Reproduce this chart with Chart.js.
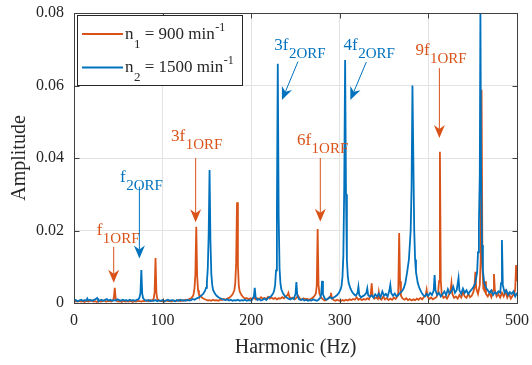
<!DOCTYPE html>
<html><head><meta charset="utf-8">
<script src="https://cdn.jsdelivr.net/npm/chart.js@4.4.0/dist/chart.umd.min.js"></script>
<style>html,body{margin:0;padding:0;background:#fff;}canvas{display:block;}</style>
</head><body>
<canvas id="c" width="532" height="365" style="width:532px;height:365px"></canvas>
<script>
// ---------- data ----------
const xTicks = [0, 100, 200, 300, 400, 500];
const yTicks = [0, 0.02, 0.04, 0.06, 0.08];
const xTitle = 'Harmonic (Hz)';
const yTitle = 'Amplitude';
const legendOrange = [{t:'n'},{t:'1',s:'sub'},{t:' = 900 min'},{t:'-1',s:'sup'}];
const legendBlue = [{t:'n'},{t:'2',s:'sub'},{t:' = 1500 min'},{t:'-1',s:'sup'}];

// n1 = 900 min^-1  [Hz, amplitude]
const orangePoints = [[0,0.0003],[2,0.0005],[4,0.0004],[6,0.0006],[8,0.0004],[10,0.0005],[12,0.0003],[14,0.0006],[16,0.0004],[18,0.0005],[20,0.0007],[22,0.0004],[24,0.0005],[26,0.0003],[28,0.0006],[30,0.0004],[32,0.0005],[34,0.0007],[36,0.0004],[38,0.0005],[40,0.0006],[42,0.0004],[44,0.0007],[45,0.0015],[46,0.0042],[47,0.0013],[48,0.0006],[50,0.0004],[52,0.0005],[54,0.0003],[56,0.0006],[58,0.0004],[60,0.0005],[62,0.0004],[64,0.0006],[66,0.0003],[68,0.0005],[70,0.0004],[72,0.0006],[74,0.0005],[76,0.0004],[78,0.0006],[80,0.0005],[82,0.0007],[84,0.0005],[86,0.0008],[88,0.0006],[90,0.0012],[91,0.003],[92,0.0124],[93,0.0028],[94,0.0011],[96,0.0007],[98,0.0005],[100,0.0006],[102,0.0004],[104,0.0007],[106,0.0005],[108,0.0006],[110,0.0004],[112,0.0007],[114,0.0005],[116,0.0006],[118,0.0008],[120,0.0005],[122,0.0007],[124,0.0006],[126,0.0009],[128,0.0007],[130,0.0011],[132,0.0013],[134,0.0018],[135,0.0025],[136,0.004],[137,0.008],[138,0.021],[139,0.0075],[140,0.0035],[141,0.0025],[143,0.0018],[145,0.0014],[147,0.0011],[149,0.0009],[151,0.0007],[153,0.0008],[155,0.0006],[157,0.0009],[159,0.0007],[161,0.0008],[163,0.0006],[165,0.0009],[167,0.0008],[169,0.0011],[171,0.0009],[173,0.0012],[175,0.0014],[177,0.0018],[179,0.0024],[181,0.0035],[182,0.0055],[183,0.011],[184,0.0278],[185,0.0105],[186,0.0048],[187,0.0032],[189,0.0022],[191,0.0016],[193,0.0012],[195,0.0014],[197,0.001],[199,0.0013],[201,0.0011],[203,0.0015],[205,0.001],[207,0.0013],[209,0.0011],[211,0.0016],[213,0.0012],[215,0.0014],[217,0.0011],[219,0.0017],[221,0.0012],[223,0.0015],[225,0.0011],[227,0.0014],[229,0.001],[231,0.0013],[233,0.0012],[235,0.0016],[237,0.0013],[239,0.0018],[241,0.0022],[242,0.0028],[243,0.0018],[245,0.0012],[247,0.0015],[249,0.001],[251,0.0014],[253,0.002],[255,0.0012],[257,0.0009],[259,0.0013],[261,0.001],[263,0.0012],[265,0.0009],[267,0.0011],[269,0.0014],[271,0.0018],[273,0.0026],[274,0.0048],[275,0.0204],[276,0.005],[277,0.0026],[279,0.0015],[281,0.001],[283,0.0007],[285,0.0009],[287,0.0012],[289,0.0018],[290,0.0028],[291,0.0015],[293,0.0008],[295,0.0006],[297,0.0009],[299,0.0007],[301,0.0005],[303,0.0008],[305,0.0006],[307,0.0009],[309,0.0007],[311,0.001],[313,0.0008],[315,0.0011],[317,0.0009],[319,0.0016],[321,0.0009],[323,0.0012],[325,0.0008],[327,0.0011],[329,0.0009],[331,0.0013],[333,0.001],[335,0.0025],[336,0.0054],[337,0.0022],[339,0.0012],[341,0.0015],[343,0.0011],[344,0.003],[345,0.0013],[347,0.0009],[349,0.0018],[351,0.001],[353,0.0014],[355,0.0008],[357,0.0012],[359,0.0009],[361,0.0015],[363,0.0011],[365,0.0018],[366,0.003],[367,0.0193],[368,0.006],[369,0.002],[371,0.0012],[373,0.0009],[375,0.0013],[377,0.0008],[379,0.0011],[381,0.0007],[383,0.001],[385,0.0008],[387,0.0012],[389,0.0009],[391,0.0014],[393,0.001],[395,0.0017],[397,0.0022],[398,0.0036],[399,0.0018],[401,0.0011],[403,0.0015],[405,0.001],[407,0.0013],[409,0.0016],[411,0.0028],[412,0.006],[413,0.0417],[414,0.0062],[415,0.0025],[417,0.0014],[419,0.0018],[421,0.0012],[423,0.0022],[425,0.0035],[426,0.0055],[427,0.0025],[429,0.0014],[431,0.0018],[433,0.0012],[435,0.0022],[437,0.0015],[439,0.003],[441,0.0018],[443,0.0014],[445,0.0025],[447,0.0016],[449,0.002],[451,0.0032],[452,0.0045],[453,0.0086],[454,0.004],[456,0.0025],[458,0.005],[459,0.012],[460,0.0588],[461,0.01],[462,0.004],[463,0.0035],[464,0.006],[465,0.0025],[467,0.0018],[469,0.0028],[471,0.0016],[473,0.0035],[474,0.008],[475,0.0035],[477,0.0018],[479,0.0024],[481,0.0015],[483,0.0028],[485,0.0018],[487,0.0032],[489,0.0015],[491,0.0026],[493,0.0012],[495,0.002],[497,0.0025],[498,0.004],[499,0.0105],[500,0.006]];

// n2 = 1500 min^-1  [Hz, amplitude]
const bluePoints = [[0,0.0006],[2,0.0008],[4,0.0005],[6,0.0007],[8,0.0009],[10,0.0006],[12,0.0008],[14,0.0007],[15,0.0012],[16,0.0007],[18,0.0009],[20,0.0006],[22,0.0008],[24,0.001],[26,0.0014],[27,0.0009],[29,0.0007],[31,0.0009],[33,0.0006],[35,0.0008],[37,0.0011],[39,0.0007],[41,0.0009],[43,0.0006],[45,0.0008],[47,0.0007],[49,0.001],[51,0.0008],[53,0.0006],[55,0.0009],[57,0.0007],[59,0.0008],[61,0.0006],[63,0.0009],[65,0.0007],[67,0.0008],[69,0.0006],[71,0.0009],[73,0.0011],[74,0.0016],[75,0.0028],[76,0.0091],[77,0.0026],[78,0.0013],[80,0.0008],[82,0.0006],[84,0.0008],[86,0.0005],[88,0.0007],[90,0.0006],[92,0.0008],[94,0.0005],[96,0.0007],[98,0.0006],[100,0.0008],[102,0.0005],[104,0.0007],[106,0.0009],[108,0.0006],[110,0.0008],[112,0.0007],[114,0.0005],[116,0.0008],[118,0.0006],[120,0.0009],[122,0.0007],[124,0.0008],[126,0.0006],[128,0.0009],[130,0.0007],[132,0.0008],[134,0.0011],[136,0.0009],[138,0.0012],[140,0.0014],[142,0.0017],[144,0.0021],[146,0.0026],[148,0.0034],[149,0.0042],[150,0.0058],[151,0.0095],[152,0.019],[153,0.0367],[154,0.017],[155,0.008],[156,0.005],[157,0.0036],[159,0.0026],[161,0.002],[163,0.0016],[165,0.0013],[167,0.0011],[169,0.0009],[171,0.0008],[173,0.001],[175,0.0007],[177,0.0009],[179,0.0006],[181,0.0008],[183,0.0007],[185,0.0009],[187,0.0006],[189,0.0008],[191,0.0007],[193,0.0009],[195,0.0006],[197,0.0008],[199,0.0007],[201,0.0009],[203,0.0018],[204,0.0042],[205,0.0016],[207,0.0008],[209,0.0011],[211,0.0007],[213,0.0009],[215,0.0012],[217,0.0008],[219,0.0014],[221,0.0016],[223,0.002],[225,0.0028],[226,0.0036],[227,0.005],[228,0.009],[229,0.025],[230,0.066],[231,0.024],[232,0.0095],[233,0.0055],[234,0.0038],[236,0.0026],[238,0.0019],[240,0.0015],[242,0.0012],[244,0.001],[246,0.0013],[248,0.0011],[250,0.0025],[251,0.0058],[252,0.0022],[254,0.001],[256,0.0008],[258,0.0011],[260,0.0007],[262,0.0009],[264,0.0006],[266,0.0008],[268,0.0007],[270,0.001],[272,0.0008],[274,0.0006],[276,0.0009],[278,0.0014],[279,0.0025],[280,0.0061],[281,0.0024],[283,0.0012],[285,0.0009],[287,0.0013],[289,0.0016],[291,0.0012],[293,0.0015],[295,0.0018],[297,0.0022],[299,0.0028],[301,0.0038],[302,0.0048],[303,0.0072],[304,0.013],[305,0.032],[306,0.067],[307,0.03],[308,0.012],[309,0.0075],[310,0.0055],[312,0.004],[314,0.003],[316,0.0024],[318,0.002],[320,0.0028],[321,0.0045],[322,0.0022],[324,0.0016],[326,0.0019],[328,0.0022],[330,0.0028],[331,0.004],[332,0.0022],[334,0.0017],[336,0.0021],[338,0.0015],[340,0.0024],[342,0.0018],[344,0.0026],[346,0.0016],[348,0.0032],[350,0.002],[352,0.0025],[354,0.0018],[356,0.0035],[357,0.005],[358,0.0028],[360,0.002],[362,0.0026],[364,0.0018],[366,0.0022],[368,0.0028],[370,0.0032],[372,0.004],[374,0.0055],[376,0.0085],[378,0.012],[380,0.02],[381,0.032],[382,0.06],[383,0.04],[384,0.02],[385,0.012],[386,0.0085],[388,0.0055],[390,0.004],[392,0.003],[394,0.0022],[396,0.0018],[398,0.0025],[400,0.002],[402,0.0028],[404,0.0022],[406,0.0035],[407,0.0077],[408,0.0035],[410,0.0022],[412,0.0028],[414,0.0018],[416,0.0025],[418,0.0032],[420,0.0022],[422,0.0038],[424,0.0026],[426,0.0032],[428,0.0045],[430,0.0028],[432,0.0036],[434,0.0069],[435,0.0035],[437,0.0025],[439,0.004],[441,0.0028],[443,0.0035],[445,0.0025],[447,0.0032],[449,0.0038],[451,0.0045],[453,0.0055],[455,0.0085],[456,0.014],[457,0.022],[458,0.035],[458.7,0.0805],[459.5,0.035],[460.5,0.016],[461.5,0.009],[463,0.0055],[465,0.0042],[467,0.0035],[469,0.0028],[471,0.0035],[473,0.0022],[475,0.003],[477,0.0025],[479,0.0032],[481,0.0028],[482,0.0055],[483,0.0174],[484,0.005],[486,0.0028],[488,0.0035],[490,0.0022],[492,0.003],[494,0.0025],[496,0.0032],[498,0.0018],[500,0.0028]];

// ---------- styling / layout ----------
const ORANGE = '#D95319';
const BLUE = '#0072BD';
const TEXT = '#262626';
const FONT = '"Liberation Serif","Times New Roman",serif';

// callouts: label anchor (tx,ty) in data units; arrow from (ax1,ay1) to tip (ax2,ay2)
const callouts = [
  {parts:[{t:'f'},{t:'1ORF',s:'sub'}], color:ORANGE, tx:25.6, ty:0.0188, ax1:44.8, ay1:0.0155, ax2:44.8, ay2:0.0056},
  {parts:[{t:'f'},{t:'2ORF',s:'sub'}], color:BLUE, tx:52, ty:0.0335, ax1:73.8, ay1:0.0321, ax2:73.8, ay2:0.0123},
  {parts:[{t:'3f'},{t:'1ORF',s:'sub'}], color:ORANGE, tx:109.6, ty:0.0447, ax1:137.3, ay1:0.040, ax2:137.3, ay2:0.0223},
  {parts:[{t:'3f'},{t:'2ORF',s:'sub'}], color:BLUE, tx:226, ty:0.0698, ax1:252.8, ay1:0.0666, ax2:234.7, ay2:0.056},
  {parts:[{t:'4f'},{t:'2ORF',s:'sub'}], color:BLUE, tx:304.3, ty:0.0698, ax1:330, ay1:0.0665, ax2:311.9, ay2:0.056},
  {parts:[{t:'6f'},{t:'1ORF',s:'sub'}], color:ORANGE, tx:251.6, ty:0.0436, ax1:278, ay1:0.040, ax2:278, ay2:0.0224},
  {parts:[{t:'9f'},{t:'1ORF',s:'sub'}], color:ORANGE, tx:385.3, ty:0.0684, ax1:412.4, ay1:0.0648, ax2:412.4, ay2:0.0455}
];

function drawRich(ctx, x, y, parts, color, sz) {
  let cx = x;
  ctx.textBaseline = 'alphabetic';
  ctx.textAlign = 'left';
  ctx.fillStyle = color;
  for (const p of parts) {
    let size = sz.main, dy = 0;
    if (p.s === 'sub') { size = sz.sub; dy = sz.subDy; }
    if (p.s === 'sup') { size = sz.sup; dy = sz.supDy; }
    ctx.font = size + 'px ' + FONT;
    ctx.fillText(p.t, cx, y + dy);
    cx += ctx.measureText(p.t).width + (p.s ? 0 : 0.5);
  }
}

function drawArrow(ctx, x1, y1, x2, y2, color) {
  const dx = x2 - x1, dy = y2 - y1;
  const L = Math.hypot(dx, dy);
  const ux = dx / L, uy = dy / L, nx = -uy, ny = ux;
  const len = 13, half = 5.5, notch = 9;
  ctx.strokeStyle = color;
  ctx.lineWidth = 1;
  ctx.beginPath();
  ctx.moveTo(x1, y1);
  ctx.lineTo(x2 - ux * notch, y2 - uy * notch);
  ctx.stroke();
  ctx.fillStyle = color;
  ctx.beginPath();
  ctx.moveTo(x2, y2);
  ctx.lineTo(x2 - ux * len + nx * half, y2 - uy * len + ny * half);
  ctx.lineTo(x2 - ux * notch, y2 - uy * notch);
  ctx.lineTo(x2 - ux * len - nx * half, y2 - uy * len - ny * half);
  ctx.closePath();
  ctx.fill();
}

const decorPlugin = {
  id: 'decor',
  afterDraw(chart) {
    const ctx = chart.ctx;
    const xs = chart.scales.x, ys = chart.scales.y;
    const a = chart.chartArea;
    ctx.save();
    for (const c of callouts) {
      drawRich(ctx, xs.getPixelForValue(c.tx), ys.getPixelForValue(c.ty), c.parts, c.color,
        {main:17, sub:15, subDy:8, sup:12, supDy:-8});
      drawArrow(ctx, xs.getPixelForValue(c.ax1), ys.getPixelForValue(c.ay1),
        xs.getPixelForValue(c.ax2), ys.getPixelForValue(c.ay2), c.color);
    }
    ctx.strokeStyle = '#404040';
    ctx.lineWidth = 1;
    const L = Math.round(a.left) + 0.5, R = Math.round(a.right) + 0.5;
    const T = Math.round(a.top) + 0.5, B = Math.round(a.bottom) + 0.5;
    ctx.beginPath();
    for (const v of xTicks) {
      const px = Math.round(xs.getPixelForValue(v)) + 0.5;
      ctx.moveTo(px, B); ctx.lineTo(px, B - 5);
      ctx.moveTo(px, T); ctx.lineTo(px, T + 5);
    }
    for (const v of yTicks) {
      const py = Math.round(ys.getPixelForValue(v)) + 0.5;
      ctx.moveTo(L, py); ctx.lineTo(L + 5, py);
      ctx.moveTo(R, py); ctx.lineTo(R - 5, py);
    }
    ctx.stroke();
    ctx.strokeRect(L, T, R - L, B - T);
    const lx = L + 3, ly = T + 2, lw = 165, lh = 70;
    ctx.fillStyle = '#fff';
    ctx.fillRect(lx, ly, lw, lh);
    ctx.strokeStyle = '#262626';
    ctx.strokeRect(lx, ly, lw, lh);
    const rows = [{parts:legendOrange, color:ORANGE, y:ly + 18.5}, {parts:legendBlue, color:BLUE, y:ly + 52}];
    for (const r of rows) {
      ctx.strokeStyle = r.color;
      ctx.lineWidth = 2;
      ctx.beginPath();
      ctx.moveTo(lx + 4.5, r.y); ctx.lineTo(lx + 45.5, r.y);
      ctx.stroke();
      drawRich(ctx, lx + 47.5, r.y + 4.5, r.parts, TEXT, {main:17, sub:13, subDy:9, sup:12, supDy:-8});
    }
    ctx.restore();
  }
};

new Chart(document.getElementById('c'), {
  type: 'line',
  data: {
    datasets: [
      {label:'n1 = 900 min-1', data: orangePoints.map(p => ({x:p[0], y:p[1]})), borderColor: ORANGE,
       borderWidth: 1.8, pointRadius: 0, tension: 0, fill: false, order: 1},
      {label:'n2 = 1500 min-1', data: bluePoints.map(p => ({x:p[0], y:p[1]})), borderColor: BLUE,
       borderWidth: 1.8, pointRadius: 0, tension: 0, fill: false, order: 0}
    ]
  },
  options: {
    responsive: false,
    animation: false,
    devicePixelRatio: 1,
    layout: {padding: {top: 13, right: 15, left: 0, bottom: 0}},
    plugins: {legend: {display: false}, tooltip: {enabled: false}},
    scales: {
      x: {
        type: 'linear', min: 0, max: 500,
        afterBuildTicks: s => { s.ticks = xTicks.map(v => ({value: v})); },
        afterFit: s => { s.height = 62; s.paddingLeft = 0; s.paddingRight = 0; },
        grid: {color: '#e3e3e3', drawTicks: false},
        border: {display: false},
        ticks: {font: {family: FONT, size: 16}, color: TEXT, padding: 8, maxRotation: 0},
        title: {display: true, text: xTitle, font: {family: FONT, size: 20}, color: TEXT, padding: {top: 0, bottom: 5}}
      },
      y: {
        type: 'linear', min: 0, max: 0.08,
        afterBuildTicks: s => { s.ticks = yTicks.map(v => ({value: v})); },
        afterFit: s => { s.width = 74; s.paddingTop = 0; s.paddingBottom = 0; },
        grid: {color: '#e3e3e3', drawTicks: false},
        border: {display: false},
        ticks: {font: {family: FONT, size: 16}, color: TEXT, padding: 10,
                callback: v => v === 0 ? '0' : v.toFixed(2)},
        title: {display: true, text: yTitle, font: {family: FONT, size: 20}, color: TEXT, padding: {top: 8, bottom: 0}}
      }
    }
  },
  plugins: [decorPlugin]
});
</script>
</body></html>
